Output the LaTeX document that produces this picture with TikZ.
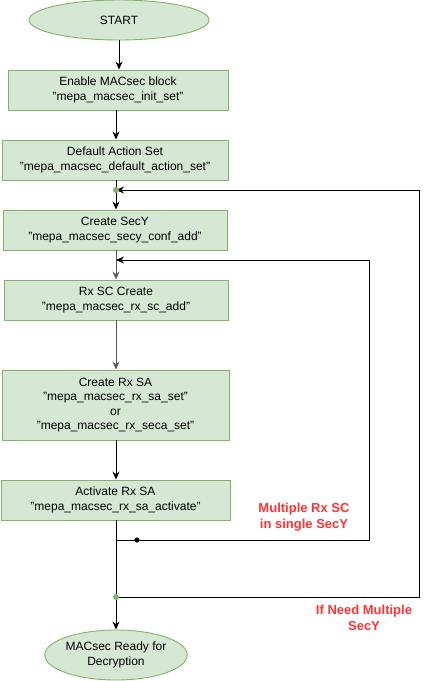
\documentclass[tikz,border=0pt]{standalone}
\usepackage{fontspec}
\setmainfont{Liberation Sans}
\usepackage{xcolor}
\usetikzlibrary{shapes,arrows.meta,positioning}

\definecolor{boxfill}{HTML}{D5E8D4}
\definecolor{boxline}{HTML}{82B366}
\definecolor{notered}{HTML}{FF3333}

\newcommand{\apiname}[1]{\symbol{34}#1\symbol{34}}

\tikzset{
    stepbox/.style={draw=boxline, fill=boxfill, line width=0.9pt, rectangle, inner sep=0pt, align=center, font=\fontsize{12}{14.5}\selectfont},
    termbox/.style={draw=boxline, fill=boxfill, line width=0.9pt, ellipse, inner sep=0pt, align=center, font=\fontsize{12}{14.5}\selectfont},
    flow/.style={line width=0.9pt, -{Stealth[length=8pt,width=7pt]}},
    note/.style={text=notered, font=\bfseries\fontsize{13}{16}\selectfont, align=center},
}

\begin{document}
\begin{tikzpicture}[x=1pt, y=-1pt]
\useasboundingbox (0,0) rectangle (428,681);

% Start and end
\node[termbox, minimum width=180pt, minimum height=40pt] (start) at (119,20) {START};
\node[termbox, minimum width=120pt, minimum height=50pt] (ready) at (116,655) {MACsec Ready for\\Decryption};

% Steps
\node[stepbox, minimum width=220pt, minimum height=40pt] (init) at (118,90) {Enable MACsec block\\\apiname{mepa\_macsec\_init\_set}};
\node[stepbox, minimum width=226pt, minimum height=40pt] (action) at (115,160) {Default Action Set\\\apiname{mepa\_macsec\_default\_action\_set}};
\node[stepbox, minimum width=224pt, minimum height=40pt] (secy) at (115,230) {Create SecY\\\apiname{mepa\_macsec\_secy\_conf\_add}};
\node[stepbox, minimum width=224pt, minimum height=40pt] (rxsc) at (116,300) {Rx SC Create\\\apiname{mepa\_macsec\_rx\_sc\_add}};
\node[stepbox, minimum width=227pt, minimum height=70pt] (rxsa) at (115.5,405) {Create Rx SA\\\apiname{mepa\_macsec\_rx\_sa\_set}\\or\\\apiname{mepa\_macsec\_rx\_seca\_set}};
\node[stepbox, minimum width=229pt, minimum height=40pt] (activate) at (115.5,500) {Activate Rx SA\\\apiname{mepa\_macsec\_rx\_sa\_activate}};

% Junctions on the main line
\coordinate (jsecy) at (116,190);
\coordinate (jrxsc) at (116,260);
\coordinate (mrxsc) at (116,540);
\coordinate (msecy) at (116,597);
\coordinate (crxsc) at (369,540);
\coordinate (csecy) at (419,597);

% Main flow
\draw[flow] (start.south) -- (start.south |- init.north);
\draw[flow] (init.south -| jsecy) -- (action.north -| jsecy);
\draw[flow] (action.south -| jsecy) -- (secy.north -| jsecy);
\draw[flow, draw=gray!70!black] (secy.south -| jrxsc) -- (rxsc.north -| jrxsc);
\draw[flow, draw=gray!70!black] (rxsc.south -| jrxsc) -- (rxsa.north -| jrxsc);
\draw[flow] (rxsa.south -| jrxsc) -- (activate.north -| jrxsc);
\draw[flow] (activate.south -| mrxsc) -- (ready.north -| mrxsc);

% Loop back for another Rx SC
\draw[flow] (mrxsc) -- (crxsc) -- (crxsc |- jrxsc) -- (jrxsc);
\fill (137,540) circle (2.6pt);

% Loop back for another SecY
\draw[flow] (msecy) -- (csecy) -- (csecy |- jsecy) -- (jsecy);
\fill[boxline] (msecy) circle (3pt);
\fill[boxline] (jsecy) circle (3pt);

% Notes
\node[note] (notesc) at (304,517) {Multiple Rx SC\\in single SecY};
\node[note] (notesecy) at (364,618) {If Need Multiple\\SecY};

\end{tikzpicture}
\end{document}
